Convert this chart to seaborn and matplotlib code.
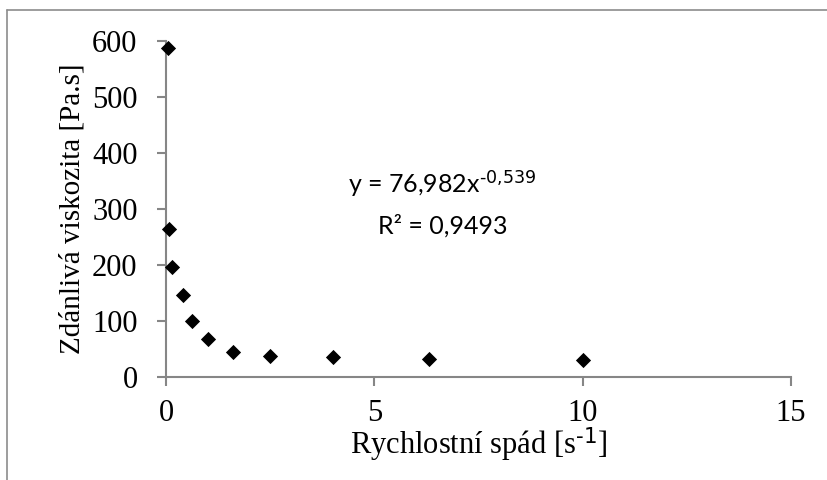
import matplotlib
matplotlib.use("Agg")
import matplotlib.pyplot as plt
import seaborn as sns
import pandas as pd
from matplotlib.lines import Line2D

# Measured points: shear rate [1/s] vs. apparent viscosity [Pa.s]
shear_rate = [0.04, 0.08, 0.14, 0.40, 0.63, 1.0, 1.6, 2.5, 4.0, 6.3, 10.0]
viscosity = [588, 265, 197, 146, 100, 68, 44, 37, 36, 32, 31]

x_ticks = [0, 5, 10, 15]
y_ticks = [0, 100, 200, 300, 400, 500, 600]

fit_equation = "y = 76,982x$^{\\text{-0,539}}$"
fit_r2 = "R² = 0,9493"

df = pd.DataFrame({"rate": shear_rate, "visc": viscosity})

sns.set_theme(style="white")
plt.rcParams["font.family"] = ["Liberation Serif", "DejaVu Serif"]
plt.rcParams["mathtext.default"] = "regular"

axis_grey = "#868686"

fig = plt.figure(figsize=(8.27, 4.80), dpi=100)
ax = fig.add_axes([166 / 827, 1 - 377 / 480, (791 - 166) / 827, (377 - 41) / 480])

sns.scatterplot(data=df, x="rate", y="visc", marker="D", s=60,
                color="black", edgecolor="black", linewidth=0, ax=ax,
                clip_on=False, zorder=3)

ax.set_xlim(0, 15)
ax.set_ylim(0, 600)
ax.set_xticks(x_ticks)
ax.set_yticks(y_ticks)
ax.set_xticklabels([str(v) for v in x_ticks])
ax.set_yticklabels([str(v) for v in y_ticks])

for side in ("top", "right"):
    ax.spines[side].set_visible(False)
for side in ("left", "bottom"):
    ax.spines[side].set_color(axis_grey)
    ax.spines[side].set_linewidth(1.5)

ax.tick_params(axis="both", which="major", direction="out", length=6.5,
               width=1.5, color=axis_grey, labelsize=22, labelcolor="black",
               left=True, bottom=True)
ax.tick_params(axis="x", pad=9)
ax.tick_params(axis="y", pad=14)

ax.set_xlabel("Rychlostní spád [s$^{\\text{-1}}$]", fontsize=22,
              color="black", labelpad=-1)
ax.set_ylabel("Zdánlivá viskozita [Pa.s]", fontsize=21, color="black",
              labelpad=5)

# Trendline equation and coefficient of determination
eq_font = dict(fontsize=18, family=["Lato", "DejaVu Sans"], color="black")
ax.text(0.442, 0.575, fit_equation, transform=ax.transAxes, ha="center",
        va="center", **eq_font)
ax.text(0.442, 0.449, fit_r2, transform=ax.transAxes, ha="center",
        va="center", **eq_font)

# Chart area frame
frame_kw = dict(color="#8c8c8c", linewidth=1.2, transform=fig.transFigure)
fig.add_artist(Line2D([7 / 827, 7 / 827], [0, 1 - 10 / 480], **frame_kw))
fig.add_artist(Line2D([7 / 827, 1], [1 - 10 / 480, 1 - 10 / 480], **frame_kw))

fig.savefig("out.png", dpi=100, facecolor="white")
